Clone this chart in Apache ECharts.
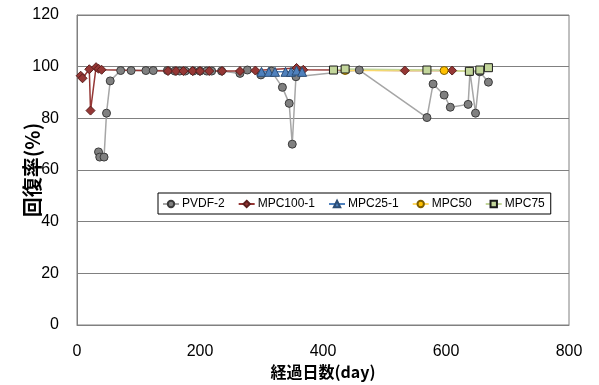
<!DOCTYPE html>
<html><head><meta charset="utf-8">
<script src="https://cdn.jsdelivr.net/npm/echarts@6/dist/echarts.min.js"></script>
<style>html,body{margin:0;padding:0;background:#fff}#c{width:599px;height:385px}</style>
</head><body><div id="c"></div>
<script>
var seriesNames = ['PVDF-2','MPC100-1','MPC25-1','MPC50','MPC75'];
var xTicks = [0,200,400,600,800];
var yTicks = [0,20,40,60,80,100,120];
var pvdf2 = [[35,67],[37,65],[44,65],[48,82],[54,94.5],[71,98.5],[88,98.5],[112,98.5],[124,98.5],[147,98.5],[159,98.3],[167,98.3],[176,98.3],[189,98.3],[200,98.3],[211,98.3],[219,98.3],[235,98.3],[265,97.4],[277,98.7],[299,96.8],[316,98.3],[334,92],[345,85.8],[350,70],[356,96.1],[459,98.7],[569,80.3],[579,93.3],[597,89],[607,84.3],[636,85.4],[639,98],[648,82],[655,98],[669,94]];
var mpc100_1 = [[6,96.5],[9,95.5],[20,99],[22,83],[31,99.8],[35,99.2],[40,98.8],[148,98.3],[161,98.3],[173,98.3],[188,98.3],[200,98.3],[215,98.3],[236,98.3],[265,98.3],[290,98.5],[357,99.5],[368,98.8],[533,98.5],[610,98.5]];
var mpc25_1 = [[300,98],[312,98],[322,98],[339,98],[348,98],[357,98.5],[366,98]];
var mpc50 = [[436,98.5],[597,98.5],[638,98.2]];
var mpc75 = [[417,98.7],[436,99.1],[569,98.7],[638,98.2],[655,98.7],[669,99.6]];

var styles = [
  {data: pvdf2, symbol:'circle', size:8, fill:'#808080', border:'#3a3a3a', line:'#a6a6a6'},
  {data: mpc100_1, symbol:'diamond', size:9, fill:'#953735', border:'#5a1e1d', line:'#953735'},
  {data: mpc25_1, symbol:'triangle', size:9, fill:'#4f81bd', border:'#2c4d75', line:'#4f81bd'},
  {data: mpc50, symbol:'circle', size:8, fill:'#ffc000', border:'#7f6000', line:'#ffd966'},
  {data: mpc75, symbol:'rect', size:8, fill:'#c3d69b', border:'#1a1a1a', line:'#c3d69b'}
];
var series = styles.map(function(s,i){
  return {name: seriesNames[i], type:'line', data:s.data, symbol:s.symbol, symbolSize:s.size,
    showAllSymbol:true, animation:false,
    lineStyle:{color:s.line, width:1.5},
    itemStyle:{color:s.fill, borderColor:s.border, borderWidth:1}};
});
var chart = echarts.init(document.getElementById('c'), null, {renderer:'canvas'});
chart.setOption({
  animation:false,
  textStyle:{fontFamily:'Liberation Sans'},
  grid:{left:77, right:30, top:15, bottom:60, show:true, borderColor:'#808080', borderWidth:1,
    containLabel:false, outerBoundsMode:'none'},
  legend:{data:seriesNames, left:158, top:193, orient:'horizontal', itemWidth:16, itemHeight:8, itemGap:13,
    borderColor:'#000', borderWidth:1, padding:[5,6,4,4], backgroundColor:'#fff',
    textStyle:{fontSize:12, color:'#000', fontFamily:'Liberation Sans', padding:[0,0,0,-2]}},
  xAxis:{type:'value', min:0, max:800, interval:200,
    axisLine:{show:true, lineStyle:{color:'#808080'}}, axisTick:{show:false}, splitLine:{show:false},
    axisLabel:{fontSize:16, color:'#000', margin:19, formatter:function(v){return xTicks.indexOf(v)>=0?String(v):'';}},
    name:'経過日数(day)', nameLocation:'middle', nameGap:39, nameMoveOverlap:false,
    nameTextStyle:{fontSize:16, fontWeight:'bold', color:'#000', fontFamily:'Noto Sans CJK JP'}},
  yAxis:{type:'value', min:0, max:120, interval:20,
    axisLine:{show:true, lineStyle:{color:'#808080'}}, axisTick:{show:false},
    splitLine:{show:true, lineStyle:{color:'#808080', width:1}},
    axisLabel:{fontSize:16, color:'#000', margin:18, formatter:function(v){return yTicks.indexOf(v)>=0?String(v):'';}},
    name:'回復率(%)', nameLocation:'middle', nameGap:35, nameMoveOverlap:false,
    nameTextStyle:{fontSize:20, fontWeight:'bold', color:'#000', fontFamily:'Noto Sans CJK JP'}},
  series: series
});
</script></body></html>
